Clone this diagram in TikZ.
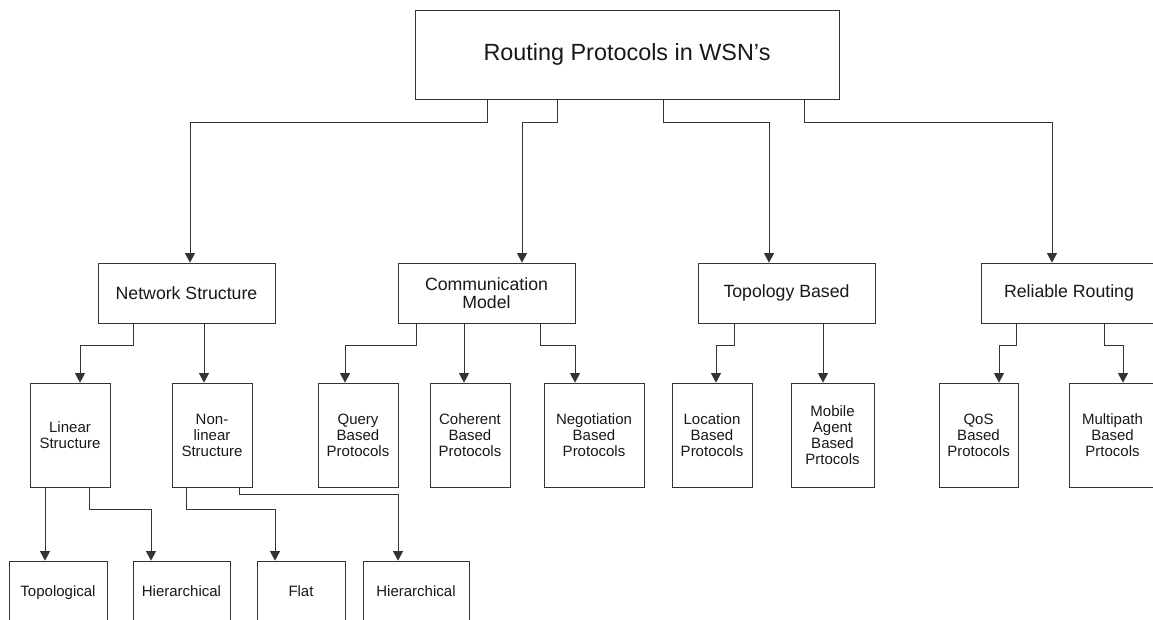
\documentclass[tikz,border=0pt]{standalone}
\usepackage{fontspec}
\setmainfont{Liberation Sans}
\usetikzlibrary{arrows.meta}
\begin{document}
\begin{tikzpicture}[x=1pt,y=-1pt,
 box/.style={draw=black!80, line width=0.8pt, inner sep=0pt, align=center, text=black!90},
 l0/.style={box, font=\fontsize{23.4}{26}\selectfont},
 l1/.style={box, minimum height=60pt, font=\fontsize{17.7}{18.5}\selectfont},
 l2/.style={box, minimum height=104pt, font=\fontsize{15}{16}\selectfont},
 l3/.style={box, minimum height=62pt, text height=11pt, text depth=3pt, font=\fontsize{15}{16}\selectfont},
 arr/.style={draw=black!80, line width=0.8pt, -{Triangle[width=10pt,length=9.5pt]}}]
\clip (0,0) rectangle (1153,619);
\fill[white] (0,0) rectangle (1153,619);

% root
\node[l0, minimum width=424pt, minimum height=89pt] (root) at (627,54.5) {Routing Protocols in WSN's};

% level 1
\node[l1, minimum width=177pt] (ns) at (186.5,293) {Network Structure};
\node[l1, minimum width=177pt] (cm) at (486.5,293) {Communication\\Model};
\node[l1, minimum width=177pt] (tb) at (786.5,293) {Topology Based};
\node[l1, minimum width=176pt] (rr) at (1069,293) {Reliable Routing};

% level 2
\node[l2, minimum width=80pt] (ls) at (70,435) {Linear\\Structure};
\node[l2, minimum width=80pt] (nl) at (212,435) {Non-\\linear\\Structure};
\node[l2, minimum width=80pt] (q) at (358,435) {Query\\Based\\Protocols};
\node[l2, minimum width=80pt] (co) at (470,435) {Coherent\\Based\\Protocols};
\node[l2, minimum width=100pt] (ne) at (594,435) {Negotiation\\Based\\Protocols};
\node[l2, minimum width=80pt] (lo) at (712,435) {Location\\Based\\Protocols};
\node[l2, minimum width=83pt] (mo) at (832.5,435) {Mobile\\Agent\\Based\\Prtocols};
\node[l2, minimum width=79pt] (qo) at (978.5,435) {QoS\\Based\\Protocols};
\node[l2, minimum width=87pt] (mp) at (1112.5,435) {Multipath\\Based\\Prtocols};

% level 3
\node[l3, minimum width=98pt] (topo) at (58,592) {Topological};
\node[l3, minimum width=97pt] (hi1) at (181.5,592) {Hierarchical};
\node[l3, minimum width=88pt] (fl) at (301,592) {Flat};
\node[l3, minimum width=106pt] (hi2) at (416,592) {Hierarchical};

% root -> level 1
\draw[arr] ([xshift=-140pt]root.south) -- ++(0,23) -| ([xshift=3.5pt]ns.north);
\draw[arr] ([xshift=-70pt]root.south) -- ++(0,23) -| ([xshift=35.5pt]cm.north);
\draw[arr] ([xshift=36pt]root.south) -- ++(0,23) -| ([xshift=-17.5pt]tb.north);
\draw[arr] ([xshift=177pt]root.south) -- ++(0,23) -| ([xshift=-17pt]rr.north);

% level 1 -> level 2
\draw[arr] ([xshift=-53.5pt]ns.south) -- ++(0,22) -| ([xshift=10pt]ls.north);
\draw[arr] ([xshift=17.5pt]ns.south) -- ([xshift=-8pt]nl.north);
\draw[arr] ([xshift=-70.5pt]cm.south) -- ++(0,22) -| ([xshift=-13pt]q.north);
\draw[arr] ([xshift=-22.5pt]cm.south) -- ([xshift=-6pt]co.north);
\draw[arr] ([xshift=53.5pt]cm.south) -- ++(0,22) -| ([xshift=-19pt]ne.north);
\draw[arr] ([xshift=-52.5pt]tb.south) -- ++(0,22) -| ([xshift=4pt]lo.north);
\draw[arr] ([xshift=36.5pt]tb.south) -- ([xshift=-9.5pt]mo.north);
\draw[arr] ([xshift=-53pt]rr.south) -- ++(0,22) -| ([xshift=20.5pt]qo.north);
\draw[arr] ([xshift=35pt]rr.south) -- ++(0,22) -| ([xshift=10.5pt]mp.north);

% level 2 -> level 3
\draw[arr] ([xshift=-25pt]ls.south) -- ([xshift=-13pt]topo.north);
\draw[arr] ([xshift=19pt]ls.south) -- ++(0,22) -| ([xshift=-30.5pt]hi1.north);
\draw[arr] ([xshift=-26pt]nl.south) -- ++(0,22) -| ([xshift=-26pt]fl.north);
\draw[arr] ([xshift=27pt]nl.south) -- ++(0,7) -| ([xshift=-18pt]hi2.north);
\end{tikzpicture}
\end{document}
